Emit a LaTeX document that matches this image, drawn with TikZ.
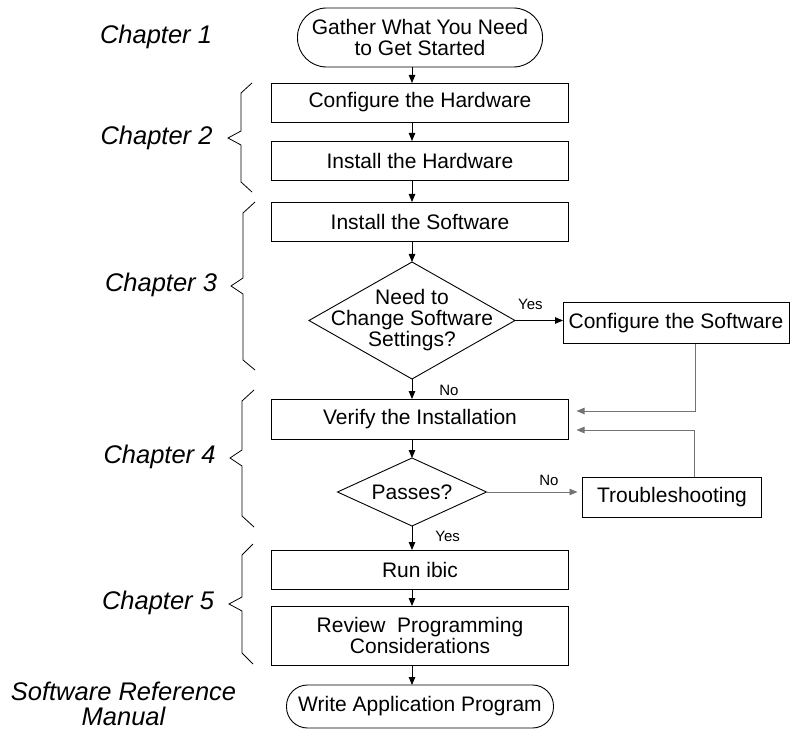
\documentclass[tikz,border=0pt]{standalone}
\usepackage{fontspec}
\setmainfont{Liberation Sans}
\usetikzlibrary{positioning}
\usetikzlibrary{shapes.geometric}
\usetikzlibrary{arrows.meta}

\begin{document}
\begin{tikzpicture}[x=1pt, y=-1pt,
  taskbox/.style={draw, line width=0.9pt, fill=white, outer sep=0pt, align=center,
    minimum width=297pt, minimum height=39pt, inner sep=2pt,
    font=\fontsize{21}{21}\selectfont},
  terminal/.style={taskbox, rounded corners=29pt},
  decide/.style={draw, diamond, line width=0.9pt, outer sep=0pt, align=center, inner sep=0pt,
    font=\fontsize{21}{21}\selectfont},
  chapter/.style={font=\fontsize{25.5}{25}\selectfont\itshape, align=center},
  answer/.style={font=\fontsize{15}{15}\selectfont, inner sep=0pt},
  flow/.style={line width=0.8pt, -{Triangle[length=8pt, width=6.5pt]}},
  back/.style={flow, draw=black!55}]

\useasboundingbox (0,0) rectangle (790,730);

\node[terminal, minimum width=245pt, minimum height=59pt] (start) at (420,37.5) {Gather What You Need\\to Get Started};

\node[taskbox, below=16pt of start] (hwconf) {Configure the Hardware};
\node[taskbox, below=19pt of hwconf] (hwinst) {Install the Hardware};
\node[taskbox, below=22pt of hwinst] (swinst) {Install the Software};

\node[decide, below=21pt of swinst, xshift=-8pt, inner sep=-14pt, aspect=1.76,
  minimum width=206pt, minimum height=117pt] (q1) {Need to\\Change Software\\Settings?};
\node[taskbox, right=48pt of q1, yshift=-2.5pt, minimum width=226pt, minimum height=41pt] (swconf) {Configure the Software};

\node[taskbox, below=20pt of q1, xshift=8pt, minimum height=40pt] (verify) {Verify the Installation};
\node[decide, below=19pt of verify, xshift=-8pt, aspect=2.19,
  minimum width=149pt, minimum height=68pt] (q2) {Passes?};
\node[taskbox, right=96pt of q2, yshift=-5pt, minimum width=179pt, minimum height=40pt] (trouble) {Troubleshooting};

\node[taskbox, below=24pt of q2, xshift=8pt] (run) {Run ibic};
\node[taskbox, below=17pt of run, minimum height=59pt] (review) {Review~ Programming\\Considerations};
\node[terminal, below=20pt of review, minimum width=267pt, minimum height=43pt, rounded corners=21pt] (write) {Write Application Program};

% main column
\draw[flow] (start.south -| q1) -- (hwconf.north -| q1);
\draw[flow] (hwconf.south -| q1) -- (hwinst.north -| q1);
\draw[flow] (hwinst.south -| q1) -- (swinst.north -| q1);
\draw[flow] (swinst.south -| q1) -- (q1.north);
\draw[flow] (q1.south) -- (verify.north -| q1) node[answer, pos=0.55, right=27pt] {No};
\draw[flow] (verify.south -| q1) -- (q2.north);
\draw[flow] (q2.south) -- (run.north -| q2) node[answer, pos=0.45, right=23pt] {Yes};
\draw[flow] (run.south -| q2) -- (review.north -| q2);
\draw[flow] (review.south -| q2) -- (write.north -| q2);

% side branches
\draw[flow] (q1.east) -- (q1.east -| swconf.west) node[answer, pos=0.32, above=10pt] {Yes};
\draw[back, shorten >=5pt] (q2.east) -- (q2.east -| trouble.west) node[answer, pos=0.65, above=6pt] {No};
\draw[back] ([xshift=19pt]swconf.south) |- ([xshift=8pt, yshift=8pt]verify.east);
\draw[back] ([xshift=22.5pt]trouble.north) |- ([xshift=8pt, yshift=-11pt]verify.east);

% chapter braces
\draw[line width=0.8pt] (252,83) -- (241,93) -- (241,131) -- (228,138) -- (241,145) -- (241,182) -- (252,192);
\draw[line width=0.8pt] (255,202) -- (243,213) -- (243,278) -- (231,286) -- (243,294) -- (243,360) -- (255,370);
\draw[line width=0.8pt] (254,390) -- (242,401) -- (242,450) -- (230,458) -- (242,466) -- (242,516) -- (254,527);
\draw[line width=0.8pt] (253,544) -- (242,555) -- (242,597) -- (229,604) -- (242,611) -- (242,653) -- (253,664);

\node[chapter] (ch1) at (156,37) {Chapter 1};
\node[chapter] (ch2) at (156.5,138) {Chapter 2};
\node[chapter] (ch3) at (161,285) {Chapter 3};
\node[chapter] (ch4) at (159.5,457) {Chapter 4};
\node[chapter] (ch5) at (158,603) {Chapter 5};
\node[chapter] (srm) at (123.5,704) {Software Reference\\Manual};

\end{tikzpicture}
\end{document}
